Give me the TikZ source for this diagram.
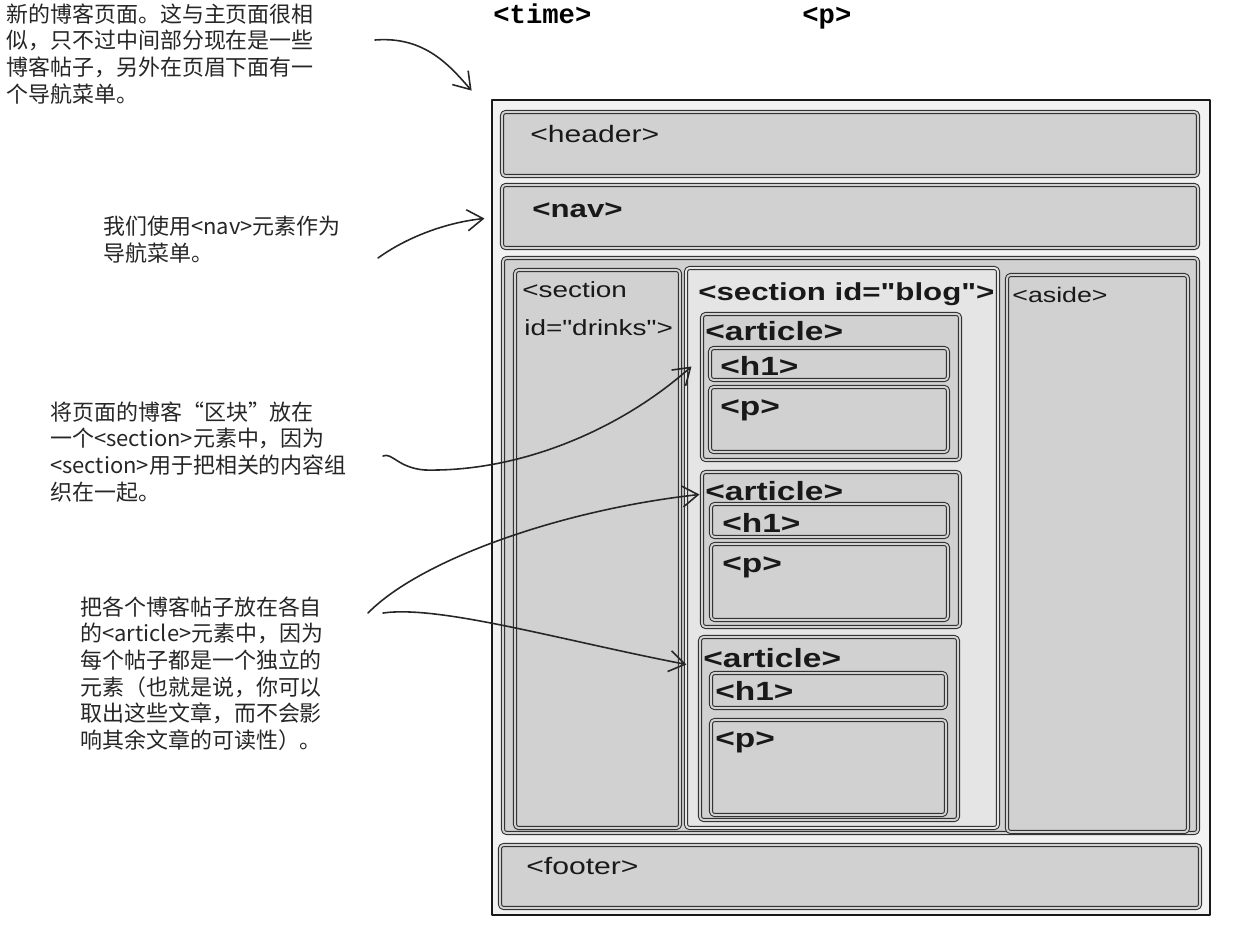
\documentclass[tikz,border=0pt]{standalone}
\usepackage{fontspec}
\newfontfamily\tagfont{Liberation Sans}[FakeStretch=1.27]
\newfontfamily\cjkhand{Noto Sans CJK SC}
\newfontfamily\monotag{Liberation Mono}
\usetikzlibrary{arrows.meta,fit,calc}

\tikzset{
  box/.style={draw=black!80, double=black!18, double distance=1.1pt, line width=0.6pt,
    fill=black!18, rounded corners=2pt, inner sep=0pt},
  tag/.style={anchor=base west, inner sep=0pt, text=black!90, font=\tagfont\fontsize{13.5}{16}\selectfont},
  btag/.style={tag, font=\tagfont\bfseries\fontsize{15}{18}\selectfont},
  code/.style={anchor=base west, inner sep=0pt, font=\monotag\bfseries\fontsize{15.5}{18}\selectfont},
  note/.style={anchor=north west, align=left, inner sep=0pt, text=black!85,
    font=\cjkhand\fontsize{12.5}{15.2}\selectfont},
  pen/.style={->, line width=0.9pt, black!85},
}

\begin{document}
\begin{tikzpicture}[x=0.02cm, y=-0.02cm, line join=round, line cap=round, >={Straight Barb[length=9pt,width=12pt]}] %blog page
  \useasboundingbox (0,0) rectangle (1234,944);
  \node[code] (timetag) at (493,23) {<time>};
  \node[code] (ptag) at (802,23) {<p>};

  \node[draw=black!90, line width=1.6pt, fill=black!5, inner sep=0pt, fit={(492,100) (1210,915)}] (outer) {};
  \node[box, fit={(502,112) (1198,176)}] (header) {};
  \node[box, fit={(502,185) (1198,248)}] (nav) {};
  \node[box, fit={(503,258) (1198,833)}] (main) {};
  \node[box, fit={(515,270) (680,828)}] (drinks) {};
  \node[box, fill=black!10, double=black!10, fit={(686,268) (998,828)}] (blog) {};
  \node[box, fit={(1007,275) (1188,832)}] (aside) {};
  \node[box, fit={(500,845) (1200,908)}] (footer) {};

  \node[box, fit={(702,314) (960,460)}] (art1) {};
  \node[box, fit={(710,348) (948,380)}] (hA) {};
  \node[box, fit={(710,387) (948,452)}] (pA) {};
  \node[box, fit={(702,472) (960,627)}] (art2) {};
  \node[box, fit={(711,504) (948,537)}] (hB) {};
  \node[box, fit={(711,544) (948,620)}] (pB) {};
  \node[box, fit={(700,637) (958,820)}] (art3) {};
  \node[box, fit={(711,673) (946,708)}] (hC) {};
  \node[box, fit={(711,720) (946,815)}] (pC) {};

  \node[tag] (headertxt) at (530,142) {<header>};
  \node[btag, font=\tagfont\bfseries\fontsize{14}{16}\selectfont] (navtxt) at (532,217) {<nav>};
  \node[tag, font=\tagfont\fontsize{12.5}{15}\selectfont] (drinkstxt) at (522,297) {<section};
  \node[tag, font=\tagfont\fontsize{12.5}{15}\selectfont] (drinksid) at (524,335) {id="drinks">};
  \node[btag, font=\tagfont\bfseries\fontsize{14}{16}\selectfont] (blogtxt) at (698,300) {<section id="blog">};
  \node[tag, font=\tagfont\fontsize{12}{14}\selectfont] (asidetxt) at (1012,302) {<aside>};
  \node[tag] (footertxt) at (526,874) {<footer>};

  \node[btag] (art1txt) at (705,340) {<article>};
  \node[btag] (hAtxt) at (720,375) {<h1>};
  \node[btag] (pAtxt) at (720,415) {<p>};
  \node[btag] (art2txt) at (705,500) {<article>};
  \node[btag] (hBtxt) at (722,532) {<h1>};
  \node[btag] (pBtxt) at (722,572) {<p>};
  \node[btag] (art3txt) at (703,667) {<article>};
  \node[btag] (hCtxt) at (715,700) {<h1>};
  \node[btag] (pCtxt) at (715,747) {<p>};

  \node[note] (topnote) at (6,3) {新的博客页面。这与主页面很相\\似，只不过中间部分现在是一些\\博客帖子，另外在页眉下面有一\\个导航菜单。};
  \node[note] (navnote) at (103,216) {我们使用<nav>元素作为\\导航菜单。};
  \node[note] (secnote) at (50,401) {将页面的博客“区块”放在\\一个<section>元素中，因为\\<section>用于把相关的内容组\\织在一起。};
  \node[note] (artnote) at (80,596) {把各个博客帖子放在各自\\的<article>元素中，因为\\每个帖子都是一个独立的\\元素（也就是说，你可以\\取出这些文章，而不会影\\响其余文章的可读性）。};

  \coordinate (toptail) at (375,40);
  \coordinate (navtail) at (378,258);
  \coordinate (sectail) at (383,456);
  \coordinate (arttailA) at (368,613);
  \coordinate (arttailB) at (383,613);
  \draw[pen] (toptail) .. controls (425,36) and (450,66) .. ($(outer.north west)+(-19,-8)$);
  \draw[pen] (navtail) .. controls (410,235) and (450,222) .. ($(nav.west)+(-17,2)$);
  \draw[pen] (sectail) .. controls (392,452) and (398,468) .. (425,470) .. controls (520,472) and (620,430) .. ($(art1.north west)+(-10,53)$);
  \draw[pen] (arttailA) .. controls (420,560) and (560,510) .. ($(art2.north west)+(-2,23)$);
  \draw[pen] (arttailB) .. controls (440,605) and (560,640) .. ($(art3.north west)+(-13,28)$);
\end{tikzpicture}
\end{document}
